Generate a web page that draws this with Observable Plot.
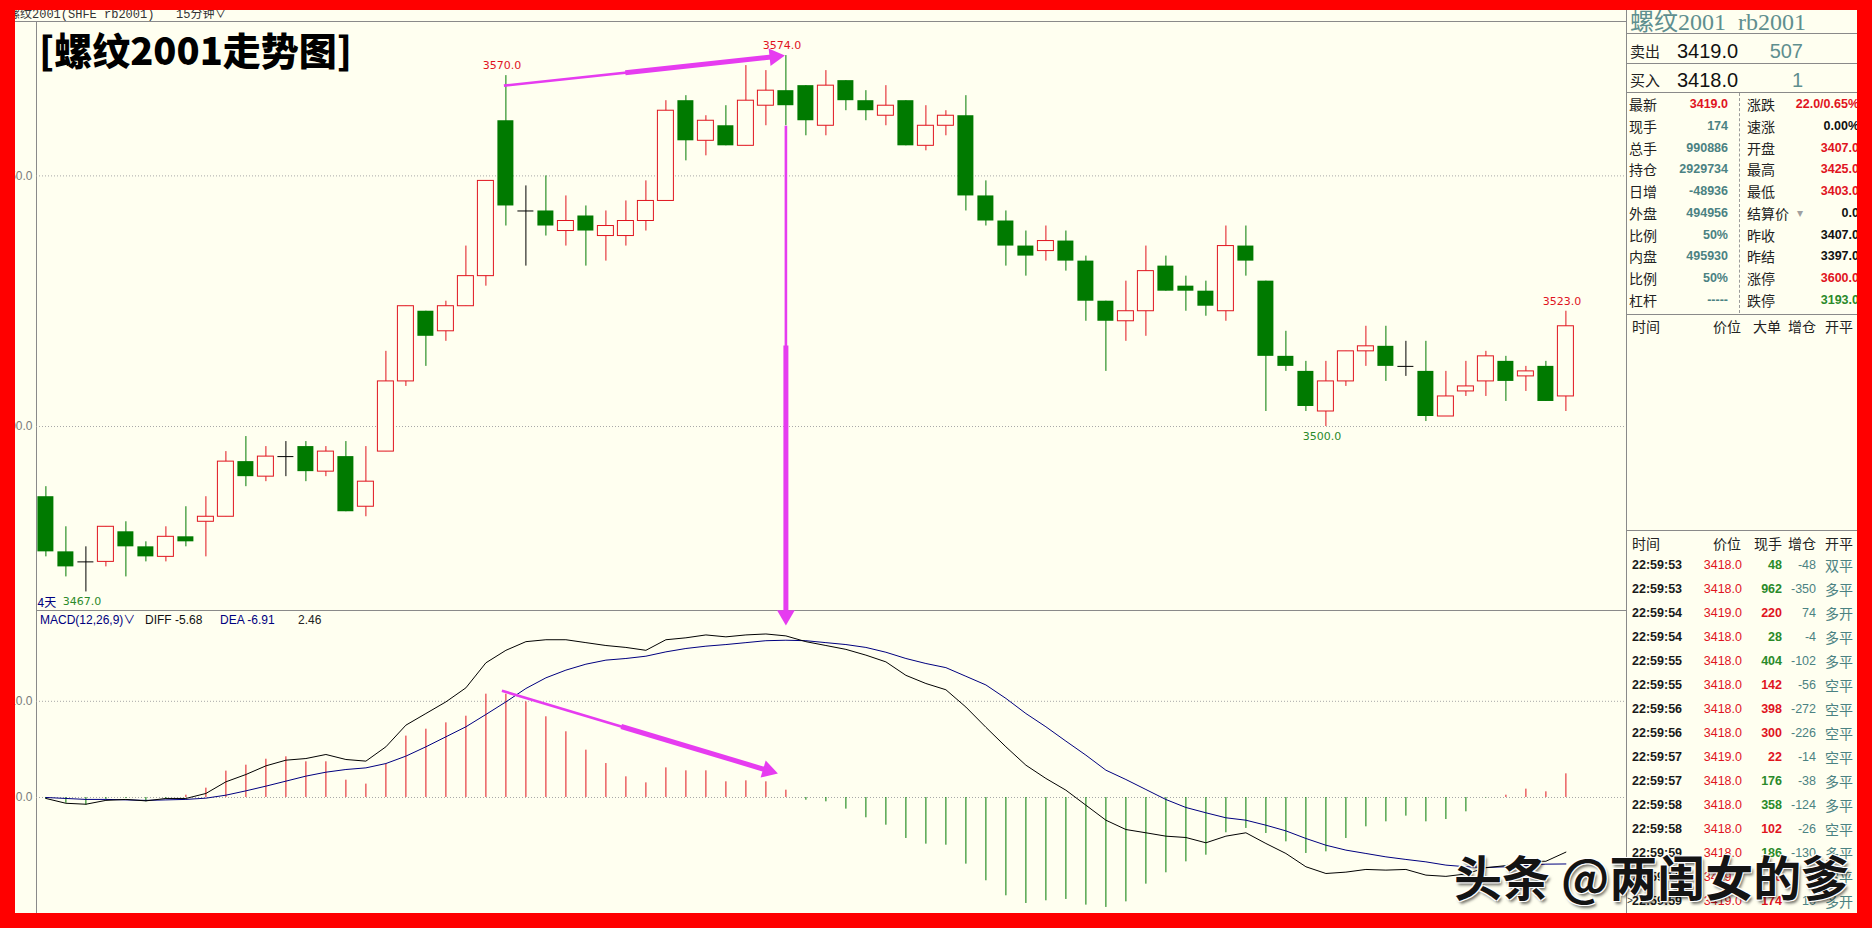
<!DOCTYPE html>
<html lang="zh">
<head>
<meta charset="utf-8">
<script src="https://cdn.jsdelivr.net/npm/d3@7"></script>
<script src="https://cdn.jsdelivr.net/npm/@observablehq/plot@0.6"></script>
<style>
  html, body { margin:0; padding:0; }
  body { width:1872px; height:928px; background:#ff0000; position:relative; overflow:hidden; }
  #stage { position:absolute; left:0; top:0; width:1872px; height:928px; background:#fffff0;
           clip-path: inset(10px 15px 15px 15px); overflow:hidden; }
  .abs { position:absolute; white-space:pre; line-height:1.2; }
  .ln { position:absolute; background:#8a8a8a; }
</style>
</head>
<body>
<div id="stage"></div>
<script>
// ================= DATA =================
// 15-minute candles (index 0 .. 76)
const opens  = [3486,3475,3473,3473,3479,3476,3474,3478,3481,3482,
                3493,3490,3494,3496,3491,3494,3484,3495,3509,3523,
                3519,3524,3530,3561,3543,3543,3539,3542,3538,3538,
                3541,3545,3565,3557,3560,3556,3564,3567,3568,3560,
                3569,3565,3562,3565,3556,3560,3562,3546,3541,3536,
                3535,3537,3533,3525,3521,3523,3532,3528,3527,3523,
                3536,3529,3514,3511,3503,3509,3515,3516,3512,3511,
                3502,3507,3509,3513,3510,3512,3506];
const highs  = [3488,3480,3476,3480,3481,3477,3480,3484,3486,3495,
                3498,3496,3497,3497,3496,3497,3496,3515,3524,3523,
                3525,3536,3549,3570,3548,3550,3546,3544,3543,3545,
                3549,3565,3566,3562,3564,3572,3571,3574,3568,3571,
                3569,3567,3568,3565,3564,3563,3566,3549,3543,3539,
                3540,3539,3534,3525,3529,3536,3534,3530,3529,3540,
                3540,3529,3519,3513,3513,3515,3520,3520,3517,3517,
                3511,3513,3515,3514,3512,3513,3523];
const lows   = [3474,3470,3467,3472,3470,3473,3473,3476,3474,3482,
                3488,3489,3490,3489,3490,3483,3482,3495,3508,3512,
                3517,3524,3528,3540,3532,3538,3536,3532,3533,3536,
                3539,3545,3553,3554,3556,3556,3560,3560,3558,3558,
                3563,3561,3560,3556,3555,3558,3543,3540,3532,3530,
                3533,3531,3521,3511,3517,3518,3527,3523,3522,3521,
                3530,3503,3511,3503,3500,3508,3512,3509,3510,3501,
                3502,3506,3506,3505,3507,3505,3503];
const closes = [3475,3472,3473,3480,3476,3474,3478,3477,3482,3493,
                3490,3494,3494,3491,3495,3483,3489,3509,3524,3518,
                3524,3530,3549,3544,3543,3540,3541,3539,3540,3541,
                3545,3563,3557,3561,3556,3565,3567,3564,3561,3568,
                3565,3563,3564,3556,3560,3562,3546,3541,3536,3534,
                3537,3533,3525,3521,3523,3531,3527,3527,3524,3536,
                3533,3514,3512,3504,3509,3515,3516,3512,3512,3502,
                3506,3508,3514,3509,3511,3505,3520];

// MACD(12,26,9)
const diffs = [-0.1,-0.6,-0.7,-0.3,-0.2,-0.35,-0.1,-0.1,0.42,1.63,
               2.39,3.29,3.88,4.05,4.47,3.95,3.78,5.27,7.52,8.73,
               9.94,11.4,14.0,15.3,16.2,16.4,16.4,16.1,15.8,15.6,
               15.3,16.4,16.6,16.9,16.7,16.9,17.0,16.8,16.2,15.8,
               15.4,14.8,14.1,12.7,11.85,11.2,9.4,7.3,5.27,3.36,
               1.98,0.76,-0.8,-2.36,-3.33,-3.67,-4.02,-4.16,-4.71,-4.02,
               -3.67,-4.78,-5.82,-7.2,-7.9,-7.76,-7.48,-7.55,-7.48,-8.07,
               -8.2,-7.95,-7.3,-7.08,-6.63,-6.63,-5.68];
const deas  = [0,-0.1,-0.2,-0.2,-0.25,-0.3,-0.25,-0.2,-0.07,0.24,
               0.69,1.18,1.7,2.22,2.63,2.91,3.08,3.53,4.30,5.27,
               6.31,7.35,8.63,9.94,11.33,12.44,13.24,13.86,14.28,14.45,
               14.69,15.14,15.49,15.73,15.9,16.1,16.3,16.35,16.3,16.1,
               15.9,15.6,15.1,14.45,13.93,13.5,12.6,11.7,10.3,8.73,
               7.35,5.86,4.4,2.84,1.87,0.83,-0.21,-1.04,-1.59,-2.11,
               -2.36,-2.88,-3.47,-4.26,-4.96,-5.47,-5.82,-6.17,-6.44,-6.69,
               -7.03,-7.2,-7.28,-7.2,-7.07,-6.93,-6.91];
const hists = [-0.2,-0.6,-0.8,-0.2,-0.1,-0.45,-0.1,0.24,0.97,2.74,
               3.36,3.98,4.23,3.71,3.71,1.80,1.39,3.47,6.38,7.10,
               7.76,8.45,10.74,10.74,9.94,8.39,6.83,4.92,3.53,2.15,
               1.52,3.08,2.77,2.77,1.63,1.73,1.63,0.76,-0.28,-0.45,
               -1.21,-2.11,-2.88,-4.26,-4.85,-4.96,-6.93,-8.66,-10.22,-11.02,
               -10.74,-10.60,-11.19,-11.43,-10.85,-9.01,-7.83,-6.69,-6.0,-3.67,
               -3.22,-3.74,-4.61,-5.82,-5.65,-4.26,-3.05,-2.53,-1.94,-2.53,
               -2.29,-1.49,-0.05,0.24,0.87,0.59,2.46];

// grid ticks
const priceTicks = [3500, 3550];
const macdTicks = [0, 10];

// extreme price labels (candle index, price)
const highLabelIdx = [23, 37, 76];
const highLabelVal = [3570, 3574, 3523];
const lowLabelIdx = [64, 2];
const lowLabelVal = [3500, 3467];

// hand-drawn annotation arrows (candle index, value)
const mainArrowX1 = [22.9, 37];
const mainArrowY1 = [3568, 3560];
const mainArrowX2 = [36.95, 37];
const mainArrowY2 = [3574, 3460.3];
const macdArrowX1 = [22.8];
const macdArrowY1 = [11.1];
const macdArrowX2 = [36.6];
const macdArrowY2 = [2.5];

// texts
const titleText = "[螺纹2001走势图]";
const topBarText = "螺纹2001(SHFE rb2001)   15分钟∨";
const macdHeader = ["MACD(12,26,9)∨", "DIFF -5.68", "DEA -6.91", "2.46"];
const panelTitle = "螺纹2001  rb2001";
const bookLabels = ["卖出", "买入"];
const bookPrices = ["3419.0", "3418.0"];
const bookVols = ["507", "1"];
const quoteLabelsL = ["最新","现手","总手","持仓","日增","外盘","比例","内盘","比例","杠杆"];
const quoteValuesL = ["3419.0","174","990886","2929734","-48936","494956","50%","495930","50%","-----"];
const quoteColorL  = ["r","t","t","t","t","t","t","t","t","t"];
const quoteLabelsR = ["涨跌","速涨","开盘","最高","最低","结算价","昨收","昨结","涨停","跌停"];
const quoteValuesR = ["22.0/0.65%","0.00%","3407.0","3425.0","3403.0","0.0","3407.0","3397.0","3600.0","3193.0"];
const quoteColorR  = ["r","k","r","r","r","k","k","k","r","g"];
const bigOrderHeader = ["时间","价位","大单","增仓","开平"];
const tickHeader = ["时间","价位","现手","增仓","开平"];
const tradeTimes = ["22:59:53","22:59:53","22:59:54","22:59:54","22:59:55","22:59:55","22:59:56","22:59:56","22:59:57","22:59:57","22:59:58","22:59:58","22:59:59","22:59:59","22:59:59"];
const tradePrices = ["3418.0","3418.0","3419.0","3418.0","3418.0","3418.0","3418.0","3418.0","3419.0","3418.0","3418.0","3418.0","3418.0","3419.0","3419.0"];
const tradeVols = [48,962,220,28,404,142,398,300,22,176,358,102,186,20,174];
const tradeVolSide = ["g","g","r","g","g","r","r","r","r","g","g","r","g","r","r"];
const tradeOI = [-48,-350,74,-4,-102,-56,-272,-226,-14,-38,-124,-26,-130,-8,10];
const tradeType = ["双平","多平","多开","多平","多平","空平","空平","空平","空平","多平","多平","空平","多平","空平","多开"];
const watermark = "头条 @两闺女的爹";

// ================= STYLE =================
const BG = "#fffff0", RED = "#e0141e", GREEN = "#007a00", NAVY = "#00007f",
      MAG = "#e63cf0", GRID = "#a8a8a8", TEAL = "#4b8282", LGREEN = "#2a8a2a";
const FONT_CN = '"Noto Sans CJK SC", "Noto Sans", sans-serif';
const FONT_NUM = '"Liberation Sans", Arial, "Noto Sans CJK SC", sans-serif';
const FONT_LBL = '"DejaVu Sans", Verdana, sans-serif';
const colorOf = {r: RED, t: TEAL, k: "#111", g: LGREEN};

const stage = document.getElementById("stage");
function put(x, y, s, o = {}) {
  const el = document.createElement("div");
  el.className = "abs";
  el.textContent = s;
  const a = o.anchor || "start";
  el.style.left = x + "px";
  el.style.top = y + "px";
  el.style.transform = `translate(${a === "end" ? "-100%" : a === "middle" ? "-50%" : "0"}, -50%)`;
  el.style.fontSize = (o.size || 13) + "px";
  el.style.color = o.color || "#222";
  el.style.fontWeight = o.weight || "normal";
  el.style.fontFamily = o.family || FONT_CN;
  if (o.shadow) el.style.textShadow = o.shadow;
  if (o.z) el.style.zIndex = o.z;
  stage.appendChild(el);
  return el;
}
function hline(x1, x2, y, c) {
  const d = document.createElement("div"); d.className = "ln";
  Object.assign(d.style, {left: x1 + "px", top: y + "px", width: (x2 - x1) + "px", height: "1px"});
  if (c) d.style.background = c; stage.appendChild(d);
}
function vline(x, y1, y2, c, dashed) {
  const d = document.createElement("div"); d.className = "ln";
  Object.assign(d.style, {left: x + "px", top: y1 + "px", width: "1px", height: (y2 - y1) + "px"});
  if (dashed) { d.style.background = "none"; d.style.borderLeft = "1px dashed #9a9a9a"; d.style.width = "0"; }
  else if (c) d.style.background = c;
  stage.appendChild(d);
}

// frame lines
hline(15, 1626, 21);
vline(36, 21, 913);
hline(36, 1626, 610);
vline(1626, 10, 913);
[33, 63, 92, 314, 530].forEach(y => hline(1626, 1857, y));
vline(1739, 93, 313, null, true);

// ================= CHARTS =================
const candles = opens.map((o, i) => ({i, o, h: highs[i], l: lows[i], c: closes[i]}));
const upC = candles.filter(d => d.c > d.o);
const downC = candles.filter(d => d.c < d.o);
const flatC = candles.filter(d => d.c === d.o);
const wickColor = d => d.c > d.o ? RED : d.c < d.o ? GREEN : "#000";
const highLabels = highLabelIdx.map((i, k) => ({i, p: highLabelVal[k]}));
const lowLabels = lowLabelIdx.map((i, k) => ({i, p: lowLabelVal[k]}));
const macd = hists.map((h, i) => ({i, h, diff: diffs[i], dea: deas[i]}));

const xDomain = [-0.47, 79.03];
const mainY = [3463.3, 3580.6];
const macdY = [-12.06, 19.44];
const half = 0.4;

// arrow geometry through the library's scales (tapered shaft + filled triangular head)
const HEAD_R = 6.6;
const HEAD_TIP = 2 * Math.sqrt(Math.PI * HEAD_R * HEAD_R / (3 * Math.sqrt(3)));
function buildArrows(x1s, y1s, x2s, y2s, sx, sy) {
  const thin = [], thick = [], heads = [];
  x1s.forEach((x1, k) => {
    const X1 = sx.apply(x1), Y1 = sy.apply(y1s[k]), X2 = sx.apply(x2s[k]), Y2 = sy.apply(y2s[k]);
    const L = Math.hypot(X2 - X1, Y2 - Y1), ux = (X2 - X1) / L, uy = (Y2 - Y1) / L;
    const bx = X2 - ux * (HEAD_TIP + 1), by = Y2 - uy * (HEAD_TIP + 1);
    const mx = X1 + (bx - X1) * 0.45, my = Y1 + (by - Y1) * 0.45;
    const cx = X2 - ux * HEAD_TIP, cy = Y2 - uy * HEAD_TIP;
    thin.push({x1, y1: y1s[k], x2: sx.invert(bx), y2: sy.invert(by)});
    thick.push({x1: sx.invert(mx), y1: sy.invert(my), x2: sx.invert(bx), y2: sy.invert(by)});
    heads.push({x: sx.invert(cx), y: sy.invert(cy), rot: Math.atan2(uy, ux) * 180 / Math.PI + 90});
  });
  return {thin, thick, heads};
}
function arrowMarks(a) {
  return [
    Plot.link(a.thin, {x1: "x1", y1: "y1", x2: "x2", y2: "y2", stroke: MAG, strokeWidth: 2.6}),
    Plot.link(a.thick, {x1: "x1", y1: "y1", x2: "x2", y2: "y2", stroke: MAG, strokeWidth: 5}),
    Plot.dot(a.heads, {x: "x", y: "y", rotate: "rot", symbol: "triangle", r: HEAD_R, fill: MAG, stroke: "none"})
  ];
}
const sxMain = Plot.scale({x: {domain: xDomain, range: [36, 1626]}});
const syMain = Plot.scale({y: {domain: mainY, range: [610, 22]}});
const syMacd = Plot.scale({y: {domain: macdY, range: [303, 0]}});
const mainArrows = buildArrows(mainArrowX1, mainArrowY1, mainArrowX2, mainArrowY2, sxMain, syMain);
const macdArrows = buildArrows(macdArrowX1, macdArrowY1, macdArrowX2, macdArrowY2, sxMain, syMacd);

const macdChart = Plot.plot({
  width: 1626, height: 303,
  marginLeft: 36, marginRight: 0, marginTop: 0, marginBottom: 0,
  x: {domain: xDomain, axis: null},
  y: {domain: macdY, axis: null},
  color: {type: "identity"},
  style: {background: "transparent", overflow: "visible", fontFamily: FONT_NUM, fontSize: "12px"},
  marks: [
    Plot.ruleY(macdTicks, {y: d => d, stroke: GRID, strokeDasharray: "1,2"}),
    Plot.text(macdTicks, {y: d => d, text: d => d.toFixed(1), frameAnchor: "left", textAnchor: "end", dx: -4, fill: "#7a7a7a", fontSize: 12}),
    Plot.ruleX(macd, {x: "i", y1: 0, y2: "h", stroke: d => d.h >= 0 ? RED : GREEN, strokeWidth: 1}),
    Plot.line(macd, {x: "i", y: "dea", stroke: NAVY, strokeWidth: 1}),
    Plot.line(macd, {x: "i", y: "diff", stroke: "#000", strokeWidth: 1}),
    ...arrowMarks(macdArrows)
  ]
});
macdChart.style.position = "absolute";
macdChart.style.left = "0px";
macdChart.style.top = "610px";
stage.appendChild(macdChart);

const mainChart = Plot.plot({
  width: 1626, height: 610,
  marginLeft: 36, marginRight: 0, marginTop: 22, marginBottom: 0,
  x: {domain: xDomain, axis: null},
  y: {domain: mainY, axis: null},
  color: {type: "identity"},
  style: {background: "transparent", overflow: "visible", fontFamily: FONT_NUM, fontSize: "12px"},
  marks: [
    Plot.ruleY(priceTicks, {y: d => d, stroke: GRID, strokeDasharray: "1,2"}),
    Plot.text(priceTicks, {y: d => d, text: d => d.toFixed(1), frameAnchor: "left", textAnchor: "end", dx: -4, fill: "#7a7a7a", fontSize: 12}),
    Plot.ruleX(candles, {x: "i", y1: "l", y2: "h", stroke: wickColor, strokeWidth: 1}),
    Plot.rect(upC, {x1: d => d.i - half, x2: d => d.i + half, y1: "o", y2: "c", fill: BG, stroke: RED, strokeWidth: 1}),
    Plot.rect(downC, {x1: d => d.i - half, x2: d => d.i + half, y1: "o", y2: "c", fill: GREEN}),
    Plot.ruleY(flatC, {x1: d => d.i - half, x2: d => d.i + half, y: "o", stroke: "#000"}),
    Plot.text(highLabels, {x: "i", y: "p", text: d => d.p.toFixed(1), fill: RED, dy: -10, dx: -4, fontSize: 11, fontFamily: FONT_LBL}),
    Plot.text(lowLabels, {x: "i", y: "p", text: d => d.p.toFixed(1), fill: LGREEN, dy: 10, dx: -4, fontSize: 11, fontFamily: FONT_LBL}),
    Plot.text(["4天"], {text: d => d, frameAnchor: "bottom-left", textAnchor: "start", lineAnchor: "bottom", dx: 1, dy: -4, fill: NAVY, fontSize: 12, fontFamily: FONT_CN}),
    ...arrowMarks(mainArrows)
  ]
});
mainChart.style.position = "absolute";
mainChart.style.left = "0px";
mainChart.style.top = "0px";
stage.appendChild(mainChart);

// ================= TEXT =================
put(8, 15, topBarText, {size: 12, color: "#333", family: '"Liberation Mono", "Noto Sans CJK SC", monospace'});
put(39, 49, titleText, {size: 38, weight: 900, color: "#000"});

// MACD header
put(40, 620, macdHeader[0], {size: 12, color: NAVY, family: FONT_NUM});
put(145, 620, macdHeader[1], {size: 12, color: "#111", family: FONT_NUM});
put(220, 620, macdHeader[2], {size: 12, color: NAVY, family: FONT_NUM});
put(298, 620, macdHeader[3], {size: 12, color: "#222", family: FONT_NUM});

// right panel
put(1630, 22, panelTitle, {size: 24, color: "#5f8f8f", family: '"Liberation Serif", "Noto Sans CJK SC", serif'});
[51, 80].forEach((y, k) => {
  put(1630, y, bookLabels[k], {size: 15});
  put(1677, y, bookPrices[k], {size: 20, color: "#111", family: FONT_NUM});
  put(1803, y, bookVols[k], {size: 20, color: "#5f8f8f", family: FONT_NUM, anchor: "end"});
});
quoteLabelsL.forEach((lab, k) => {
  const y = 104 + 21.75 * k;
  put(1629, y, lab, {size: 14});
  put(1728, y, quoteValuesL[k], {size: 12.5, weight: "bold", color: colorOf[quoteColorL[k]], family: FONT_NUM, anchor: "end"});
  put(1747, y, quoteLabelsR[k], {size: 14});
  put(1859, y, quoteValuesR[k], {size: 12.5, weight: "bold", color: colorOf[quoteColorR[k]], family: FONT_NUM, anchor: "end"});
});
put(1797, 104 + 21.75 * 5, "▾", {size: 12, color: "#a0a0a0", family: FONT_NUM});

// big order header
put(1632, 326, bigOrderHeader[0], {size: 14});
put(1741, 326, bigOrderHeader[1], {size: 14, anchor: "end"});
put(1753, 326, bigOrderHeader[2], {size: 14});
put(1788, 326, bigOrderHeader[3], {size: 14});
put(1825, 326, bigOrderHeader[4], {size: 14});

// tick table
put(1632, 543, tickHeader[0], {size: 14});
put(1741, 543, tickHeader[1], {size: 14, anchor: "end"});
put(1754, 543, tickHeader[2], {size: 14});
put(1788, 543, tickHeader[3], {size: 14});
put(1825, 543, tickHeader[4], {size: 14});
tradeTimes.forEach((t, k) => {
  const y = 564.5 + 24 * k;
  if (k === tradeTimes.length - 1) put(1627, y, ">", {size: 10, color: "#333", family: FONT_NUM});
  put(1632, y, t, {size: 12.5, weight: "bold", color: "#1a1a1a", family: FONT_NUM});
  put(1742, y, tradePrices[k], {size: 12.5, color: RED, family: FONT_NUM, anchor: "end"});
  put(1782, y, String(tradeVols[k]), {size: 12.5, weight: "bold", color: tradeVolSide[k] === "g" ? LGREEN : RED, family: FONT_NUM, anchor: "end"});
  put(1816, y, String(tradeOI[k]), {size: 12.5, color: TEAL, family: FONT_NUM, anchor: "end"});
  put(1825, y, tradeType[k], {size: 14, color: TEAL});
});

// watermark
put(1454, 876, watermark, {size: 48, weight: 700, color: "#141414", z: 5,
  shadow: "-1px -1px 0 #fff, 1px -1px 0 #fff, -1px 1px 0 #fff, 1px 1px 0 #fff, 2px 3px 3px rgba(0,0,0,0.55)"});
</script>
</body>
</html>
